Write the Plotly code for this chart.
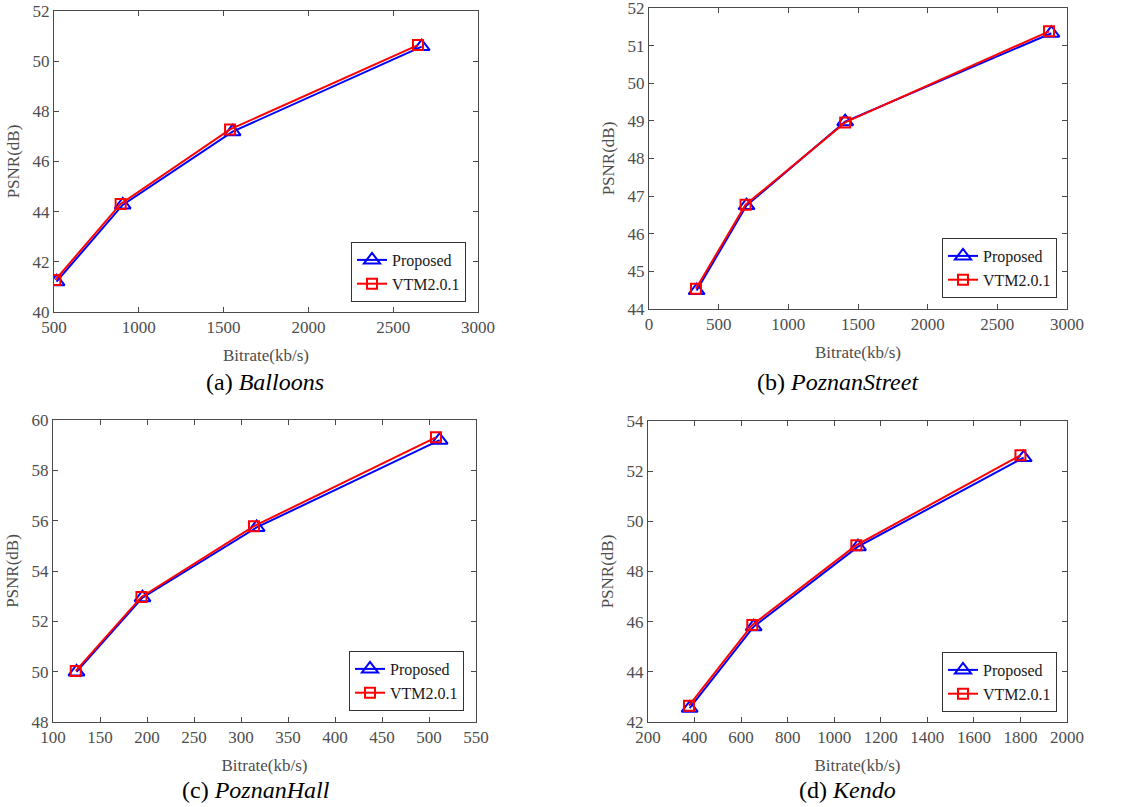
import plotly.graph_objects as go

# ---- data ----
balloons_x_prop = [515, 905, 1553, 2668]
balloons_y_prop = [41.21, 44.27, 47.19, 50.58]
balloons_x_vtm = [508, 893, 1538, 2646]
balloons_y_vtm = [41.28, 44.31, 47.28, 50.64]

street_x_prop = [342, 700, 1408, 2888]
street_y_prop = [44.49, 46.75, 48.98, 51.33]
street_x_vtm = [337, 693, 1408, 2871]
street_y_vtm = [44.54, 46.77, 48.96, 51.38]

hall_x_prop = [125, 195.2, 316.6, 511.3]
hall_y_prop = [49.99, 52.94, 55.73, 59.2]
hall_x_vtm = [124.2, 194.1, 313.8, 507.4]
hall_y_vtm = [50.03, 52.97, 55.78, 59.31]

kendo_x_prop = [379, 654, 1102, 1814]
kendo_y_prop = [42.55, 45.8, 48.99, 52.54]
kendo_x_vtm = [376, 648, 1095, 1800]
kendo_y_vtm = [42.65, 45.87, 49.05, 52.63]

captions = ["(a) <i>Balloons</i>", "(b) <i>PoznanStreet</i>", "(c) <i>PoznanHall</i>", "(d) <i>Kendo</i>"]
series_names = ["Proposed", "VTM2.0.1"]

# page body margin is removed in the page, so the figure fills the 1135x807 window
W, H, OFF = 1135, 807, 0


def fx(px):
    return (px - OFF) / W


def fy(py):
    return min(1.0, 1 - (py - OFF) / H)


panels = [
    dict(xp=balloons_x_prop, yp=balloons_y_prop, xv=balloons_x_vtm, yv=balloons_y_vtm,
         xr=[500, 3000], xd=500, yr=[40, 52], yd=2,
         box=(54, 478, 11, 312), leg=(351, 242), cap=(265, 382)),
    dict(xp=street_x_prop, yp=street_y_prop, xv=street_x_vtm, yv=street_y_vtm,
         xr=[0, 3000], xd=500, yr=[44, 52], yd=1,
         box=(649, 1067, 8, 309), leg=(942, 238), cap=(838, 382)),
    dict(xp=hall_x_prop, yp=hall_y_prop, xv=hall_x_vtm, yv=hall_y_vtm,
         xr=[100, 550], xd=50, yr=[48, 60], yd=2,
         box=(53, 476, 420, 722), leg=(349, 651), cap=(256, 790)),
    dict(xp=kendo_x_prop, yp=kendo_y_prop, xv=kendo_x_vtm, yv=kendo_y_vtm,
         xr=[200, 2000], xd=200, yr=[42, 54], yd=2,
         box=(648, 1067, 421, 722), leg=(942, 652), cap=(847, 790)),
]

FONT = "Liberation Serif, Times New Roman, serif"
AX_COLOR = "#4a4a4a"
TXT_COLOR = "#4d4d4d"

fig = go.Figure()
layout = dict(
    width=W, height=H, margin=dict(l=0, r=0, t=0, b=0, autoexpand=False),
    paper_bgcolor="white", plot_bgcolor="white",
    font=dict(family=FONT, size=17, color=TXT_COLOR),
    annotations=[],
)

for i, p in enumerate(panels):
    n = i + 1
    xa = "x" if n == 1 else f"x{n}"
    ya = "y" if n == 1 else f"y{n}"
    lg = "legend" if n == 1 else f"legend{n}"
    fig.add_trace(go.Scatter(
        x=p["xp"], y=p["yp"], mode="lines+markers", name=series_names[0],
        line=dict(color="#0000ff", width=2),
        marker=dict(symbol="triangle-up-open", size=14, color="#0000ff", line=dict(width=2)),
        xaxis=xa, yaxis=ya, legend=lg))
    fig.add_trace(go.Scatter(
        x=p["xv"], y=p["yv"], mode="lines+markers", name=series_names[1],
        line=dict(color="#ff0000", width=2),
        marker=dict(symbol="square-open", size=10, color="#ff0000", line=dict(width=2)),
        xaxis=xa, yaxis=ya, legend=lg))
    x0, x1, y0, y1 = p["box"]
    axis_common = dict(showline=True, linecolor=AX_COLOR, linewidth=1, mirror="ticks",
                       ticks="inside", ticklen=5, tickcolor=AX_COLOR, showgrid=False,
                       zeroline=False, automargin=False, ticklabeloverflow="allow",
                       tickfont=dict(family=FONT, size=17, color=TXT_COLOR))
    layout["xaxis" if n == 1 else f"xaxis{n}"] = dict(
        axis_common, domain=[fx(x0), fx(x1)], range=p["xr"], dtick=p["xd"], tick0=0,
        anchor=ya, title=dict(text="Bitrate(kb/s)", standoff=12,
                              font=dict(family=FONT, size=17, color=TXT_COLOR)))
    layout["yaxis" if n == 1 else f"yaxis{n}"] = dict(
        axis_common, domain=[fy(y1), fy(y0)], range=p["yr"], dtick=p["yd"], tick0=0,
        anchor=xa, title=dict(text="PSNR(dB)", standoff=8,
                              font=dict(family=FONT, size=17, color=TXT_COLOR)))
    layout[lg] = dict(x=fx(p["leg"][0]), y=fy(p["leg"][1]), xanchor="left", yanchor="top",
                      bgcolor="white", bordercolor="#333333", borderwidth=1,
                      font=dict(family=FONT, size=16, color="#1a1a1a"),
                      itemwidth=30, tracegroupgap=0)
    layout["annotations"].append(dict(
        text=captions[i], x=fx(p["cap"][0]), y=fy(p["cap"][1]), xref="paper", yref="paper",
        showarrow=False, xanchor="center", yanchor="middle",
        font=dict(family=FONT, size=24, color="#000000")))

fig.update_layout(**layout)
fig.write_html("out.html", config={"displayModeBar": False},
               post_script="document.body.style.margin='0';document.body.style.overflow='hidden';")
